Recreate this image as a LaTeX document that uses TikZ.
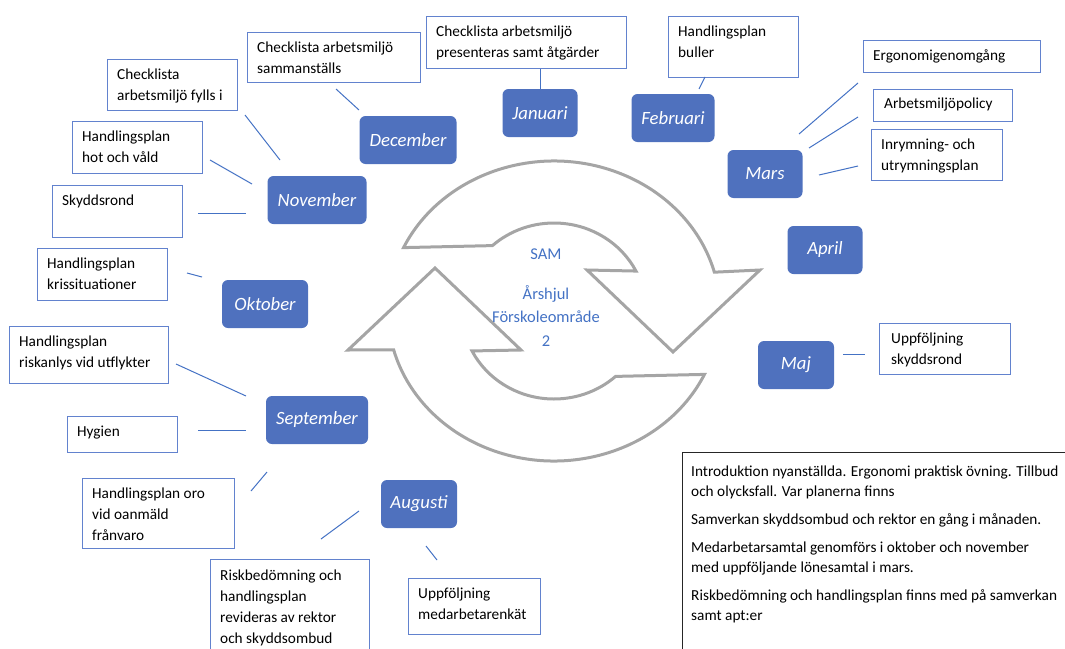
\documentclass[tikz,border=0pt]{standalone}
\usepackage{fontspec}
\setmainfont{Carlito}
\usetikzlibrary{calc}
\definecolor{monthblue}{RGB}{79,113,190}
\definecolor{boxblue}{RGB}{98,130,206}
\definecolor{linkblue}{RGB}{68,114,196}
\definecolor{ringgray}{RGB}{165,165,165}
\newcommand\txtfont{\fontsize{15.3}{20.8}\selectfont}
\newcommand\monthfont{\fontsize{18.7}{22}\selectfont\itshape}
\newcommand\samfont{\fontsize{16.5}{23.5}\selectfont}

\begin{document}
\begin{tikzpicture}[x=1pt,y=-1pt]
        \tikzstyle{month}=[fill=monthblue,rounded corners=6pt,text=white,font=\monthfont,minimum height=48,inner sep=0pt]
        \tikzstyle{box}=[draw=boxblue,line width=1.3pt,fill=white,anchor=north west,inner sep=0pt]
        \tikzstyle{boxtext}=[anchor=north west,align=left,inner sep=0pt,font=\txtfont]
        \tikzstyle{link}=[draw=linkblue,line width=1pt]
        \tikzstyle{ring}=[draw=ringgray,line width=3pt,fill=white,line join=miter]
        \useasboundingbox (0,0) rectangle (1065,648);

        \coordinate (ctr) at (554,311);
        \draw[ring] ($(ctr)+(-155:166 and 150)$) arc[start angle=-155,end angle=-15,x radius=166,y radius=150]
            -- (760,270) -- (673,352) -- (587,270)
            -- ($(ctr)+(-27:92 and 88)$) arc[start angle=-27,end angle=-132,x radius=92,y radius=88] -- cycle;
        \draw[ring] ($(ctr)+(25:166 and 150)$) arc[start angle=25,end angle=165,x radius=166,y radius=150]
            -- (348,350) -- (435,268) -- (521,350)
            -- ($(ctr)+(153:92 and 88)$) arc[start angle=153,end angle=48,x radius=92,y radius=88] -- cycle;
        \node[text=linkblue,font=\samfont] (sam) at (546,254) {SAM};
        \node[text=linkblue,font=\samfont,align=center] (title) at (546,316) {Årshjul\\Förskoleområde\\2};

        \foreach \n/\x/\y/\w/\t in {dec/408/140/97/December, nov/317/200/99/November, jan/540/113/75/Januari,
                feb/673/118/83/Februari, mars/765/174/75/Mars, apr/825/250/75/April, maj/796/365/76/Maj,
                okt/265/304/86/Oktober, sep/317/420/102/September, aug/419/504/76/Augusti}{
            \node[month,minimum width=\w] (\n) at (\x,\y) {\t};
        }

        \node[box,minimum width=173,minimum height=50] (samm) at (247,32) {};
        \node[boxtext] at ([shift={(10,10)}]samm.north west) {Checklista arbetsmiljö\\sammanställs};
        \node[box,minimum width=130,minimum height=51] (fylls) at (107,59) {};
        \node[boxtext] at ([shift={(10,10)}]fylls.north west) {Checklista\\arbetsmiljö fylls i};
        \node[box,minimum width=130,minimum height=52] (hot) at (72,121) {};
        \node[boxtext] at ([shift={(10,10)}]hot.north west) {Handlingsplan\\hot och våld};
        \node[box,minimum width=130,minimum height=52] (skydd) at (52,185) {};
        \node[boxtext] at ([shift={(10,10)}]skydd.north west) {Skyddsrond};
        \node[box,minimum width=130,minimum height=52] (kris) at (37,248) {};
        \node[boxtext] at ([shift={(10,10)}]kris.north west) {Handlingsplan\\krissituationer};
        \node[box,minimum width=200,minimum height=52] (pres) at (426,16) {};
        \node[boxtext] at ([shift={(10,10)}]pres.north west) {Checklista arbetsmiljö\\presenteras samt åtgärder};
        \node[box,minimum width=130,minimum height=61] (buller) at (668,16) {};
        \node[boxtext] at ([shift={(10,10)}]buller.north west) {Handlingsplan\\buller};
        \node[box,minimum width=177,minimum height=32] (ergo) at (863,40) {};
        \node[boxtext] at ([shift={(10,9)}]ergo.north west) {Ergonomigenomgång};
        \node[box,minimum width=139,minimum height=32] (policy) at (873,89) {};
        \node[boxtext] at ([shift={(11,9)}]policy.north west) {Arbetsmiljöpolicy};
        \node[box,minimum width=131,minimum height=51] (inrym) at (871,129) {};
        \node[boxtext] at ([shift={(10,10)}]inrym.north west) {Inrymning- och\\utrymningsplan};
        \node[box,minimum width=131,minimum height=51] (uppf) at (879,323) {};
        \node[boxtext] at ([shift={(12,10)}]uppf.north west) {Uppföljning\\skyddsrond};
        \node[box,minimum width=159,minimum height=57] (utfl) at (9,326) {};
        \node[boxtext] at ([shift={(10,10)}]utfl.north west) {Handlingsplan\\riskanlys vid utflykter};
        \node[box,minimum width=110,minimum height=36] (hyg) at (67,416) {};
        \node[boxtext] at ([shift={(10,10)}]hyg.north west) {Hygien};
        \node[box,minimum width=152,minimum height=70] (oro) at (82,478) {};
        \node[boxtext] at ([shift={(10,10)}]oro.north west) {Handlingsplan oro\\vid oanmäld\\frånvaro};
        \node[box,minimum width=159,minimum height=100] (risk) at (210,559) {};
        \node[boxtext] at ([shift={(10,11)}]risk.north west) {Riskbedömning och\\handlingsplan\\revideras av rektor\\och skyddsombud};
        \node[box,minimum width=132,minimum height=56] (enk) at (408,578) {};
        \node[boxtext] at ([shift={(10,10)}]enk.north west) {Uppföljning\\medarbetarenkät};
        \node[box,draw=black!85,minimum width=400,minimum height=210] (note) at (682,452) {};
        \node[boxtext,font=\fontsize{15.3}{20}\selectfont] at ([shift={(9,14)}]note.north west)
            {Introduktion nyanställda. Ergonomi praktisk övning. Tillbud\\och olycksfall. Var planerna finns\\[8pt]
             Samverkan skyddsombud och rektor en gång i månaden.\\[8pt]
             Medarbetarsamtal genomförs i oktober och november\\med uppföljande lönesamtal i mars.\\[8pt]
             Riskbedömning och handlingsplan finns med på samverkan\\samt apt:er};

        \foreach \n/\x/\y in {samm-l/336/89, dec-l/359/110, fylls-l/245/115, nov-l1/280/160,
                hot-l/210/160, nov-l2/252/184, skydd-l/198/213, nov-l3/246/213,
                kris-l/187/273, okt-l/202/277, buller-l/705/77, feb-l/699/89,
                ergo-l/858/83, mars-l1/799/134, policy-l/858/117, mars-l2/809/148,
                inrym-l/858/166, mars-l3/819/175, maj-l/843/354, uppf-l/865/354,
                utfl-l/176/364, sep-l1/246/396, hyg-l/198/430, sep-l2/246/430,
                oro-l/251/491, sep-l3/267/472, risk-l/321/539, aug-l1/359/511,
                enk-l/437/560, aug-l2/426/546}{
            \coordinate (\n) at (\x,\y);
        }
        \foreach \a/\b in {samm-l/dec-l, fylls-l/nov-l1, hot-l/nov-l2, skydd-l/nov-l3, kris-l/okt-l,
                buller-l/feb-l, ergo-l/mars-l1, policy-l/mars-l2, inrym-l/mars-l3, maj-l/uppf-l,
                utfl-l/sep-l1, hyg-l/sep-l2, oro-l/sep-l3, risk-l/aug-l1, enk-l/aug-l2}{
            \draw[link] (\a) -- (\b);
        }
        \draw[link] (jan.north) -- (jan.north |- pres.south);
\end{tikzpicture}
\end{document}
